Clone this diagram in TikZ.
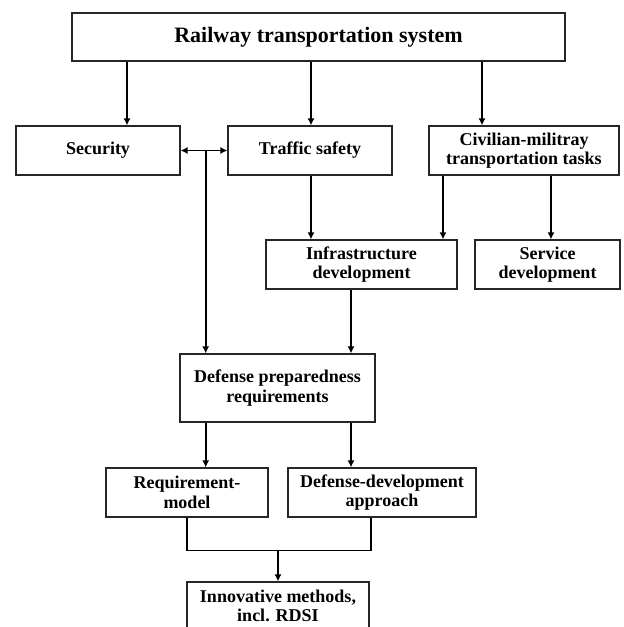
\documentclass[tikz,border=0pt]{standalone}
\usepackage{fontspec}
\setmainfont{Liberation Serif}
\usetikzlibrary{arrows.meta}
\begin{document}
\begin{tikzpicture}[x=1pt,y=-1pt,
  box/.style={draw=black!85, line width=1.2pt, fill=white, align=center, inner sep=2pt,
    font=\bfseries\fontsize{18}{19.5}\selectfont},
  arr/.style={line width=1.7pt, -{Latex[length=7pt,width=7pt]}},
  link/.style={line width=1.7pt}]
\useasboundingbox (0,0) rectangle (624,627);
\node[box, minimum width=493pt, minimum height=48pt, font=\bfseries\fontsize{22}{24}\selectfont] (top) at (318.5,37) {Railway transportation system};
\node[box, minimum width=164pt, minimum height=49pt] (sec) at (98,150.5) {Security};
\node[box, minimum width=164pt, minimum height=49pt] (traf) at (310,150.5) {Traffic safety};
\node[box, minimum width=190pt, minimum height=49pt] (civ) at (524,150.5) {Civilian-militray\\transportation tasks};
\node[box, minimum width=191pt, minimum height=49pt] (infra) at (361.5,264.5) {Infrastructure\\development};
\node[box, minimum width=145pt, minimum height=49pt] (serv) at (547.5,264.5) {Service\\development};
\node[box, minimum width=195pt, minimum height=68pt] (def) at (277.5,388) {Defense preparedness\\requirements};
\node[box, minimum width=162pt, minimum height=49pt] (reqm) at (187,492.5) {Requirement-\\model};
\node[box, minimum width=188pt, minimum height=49pt] (dda) at (382,492.5) {Defense-development\\approach};
\node[box, minimum width=182pt, minimum height=48pt] (innov) at (278,606) {Innovative methods,\\incl. RDSI};
% coordinates for connector positions
\coordinate (a1) at ([xshift=29pt]sec.north);
\coordinate (a2) at ([xshift=1pt]traf.north);
\coordinate (a3) at ([xshift=-42pt]civ.north);
\coordinate (c1) at ([xshift=-81pt]civ.south);
\coordinate (c2) at ([xshift=27pt]civ.south);
\coordinate (i1) at ([xshift=-10.5pt]infra.south);
\coordinate (dl) at ([xshift=26.3pt]def.north west);
\coordinate (d2) at ([xshift=-11pt]dda.south);
\coordinate (jn) at ([yshift=-33pt]reqm.south);
% connectors
\draw[arr] (a1 |- top.south) -- (a1);
\draw[arr] (a2 |- top.south) -- (a2);
\draw[arr] (a3 |- top.south) -- (a3);
\draw[line width=1.7pt, {Latex[length=7pt,width=7pt]}-{Latex[length=7pt,width=7pt]}] (sec.east) -- (traf.west);
\draw[arr] (dl |- sec.east) -- (dl);
\draw[arr] (a2 |- traf.south) -- (a2 |- infra.north);
\draw[arr] (c1) -- (c1 |- infra.north);
\draw[arr] (c2) -- (c2 |- serv.north);
\draw[arr] (i1) -- (i1 |- def.north);
\draw[arr] (dl |- def.south) -- (dl |- reqm.north);
\draw[arr] (i1 |- def.south) -- (i1 |- dda.north);
\draw[link] (reqm.south) -- (jn) -- (jn -| d2) -- (d2);
\draw[arr] (jn -| innov.north) -- (innov.north);
\end{tikzpicture}
\end{document}
